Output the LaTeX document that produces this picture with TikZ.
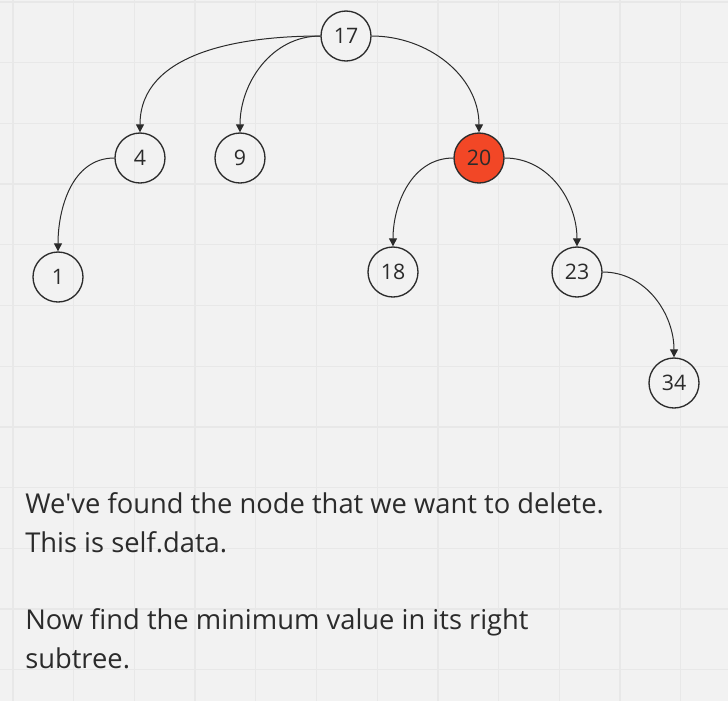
\documentclass[tikz,border=0pt]{standalone}
\usepackage{fontspec}
\setmainfont{Open Sans}
\usetikzlibrary{arrows.meta}

\definecolor{boardgray}{HTML}{F2F2F2}
\definecolor{gridgray}{HTML}{E8E8E8}
\definecolor{inkgray}{HTML}{2B2B2B}
\definecolor{delred}{HTML}{F24726}

\tikzset{
  treenode/.style={circle,draw=inkgray,line width=1pt,minimum size=37.5pt,inner sep=0pt,
    font=\fontsize{16}{16}\selectfont,text=inkgray},
  edge/.style={draw=inkgray,line width=0.75pt,-{Triangle[length=6pt,width=6pt]}},
  note/.style={anchor=north west,align=left,inner sep=0pt,text=inkgray,
    font=\fontsize{20.5}{29.25}\selectfont}
}

\begin{document}
\begin{tikzpicture}[x=0.75pt,y=-0.75pt]

            % Board and grid
            \fill[boardgray] (0,0) rectangle (728,701);
            \useasboundingbox (0,0) rectangle (728,701);
            \foreach \k in {0,...,11} {
                \draw[gridgray,line width=1pt] ({13+60.7*\k},0) -- ({13+60.7*\k},701);
                \draw[gridgray,line width=1pt] (0,{2+60.7*\k}) -- (728,{2+60.7*\k});
            }

            % Tree nodes
            \node[treenode] (n17) at (346,36) {17};
            \node[treenode] (n4) at (140,158) {4};
            \node[treenode] (n9) at (240,158) {9};
            \node[treenode,fill=delred] (n20) at (479,158) {20};
            \node[treenode] (n1) at (58,277) {1};
            \node[treenode] (n18) at (393,272) {18};
            \node[treenode] (n23) at (577,272) {23};
            \node[treenode] (n34) at (674,383) {34};

            % Edges
            \draw[edge] (n17.west) to[out=180,in=90] (n4.north);
            \draw[edge] (n17.west) to[out=180,in=90] (n9.north);
            \draw[edge] (n17.east) to[out=0,in=90] (n20.north);
            \draw[edge] (n4.west) to[out=180,in=90] (n1.north);
            \draw[edge] (n20.west) to[out=180,in=90] (n18.north);
            \draw[edge] (n20.east) to[out=0,in=90] (n23.north);
            \draw[edge] (n23.east) to[out=0,in=90] (n34.north);

            % Notes
            \node[note] (msg1) at (25,492.5) {We\textquotesingle ve found the node that we want to delete.\\This is self.data.};
            \node[note] (msg2) at (25,608.5) {Now find the minimum value in its right\\subtree.};

\end{tikzpicture}
\end{document}
